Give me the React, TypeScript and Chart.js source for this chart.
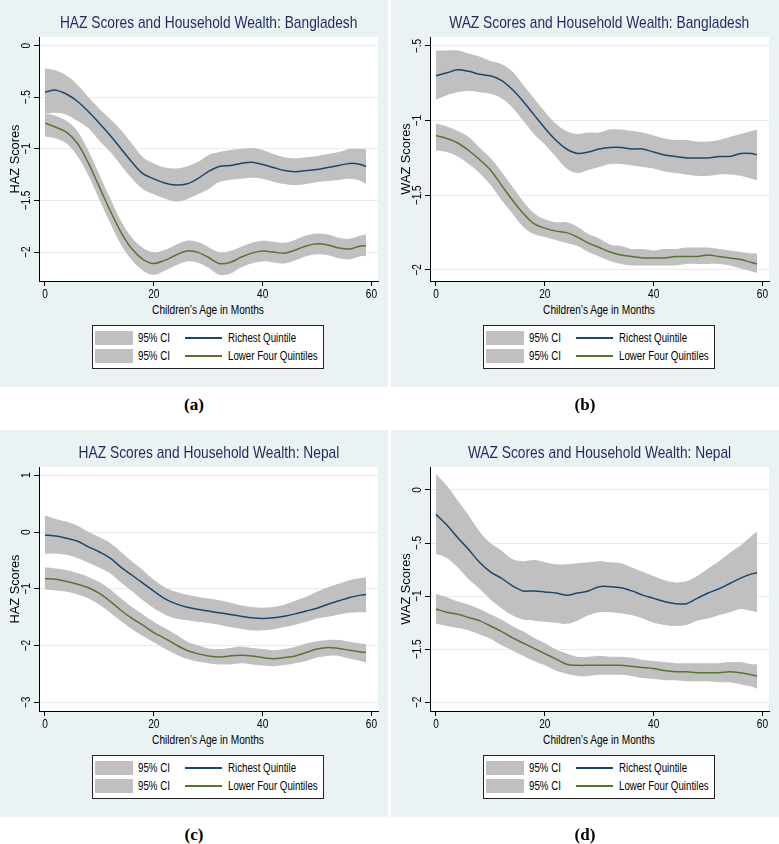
import React, { useEffect, useRef } from "react";
import { Chart, registerables } from "chart.js";

Chart.register(...registerables);

// ---------- data ----------
const months = [0, 2, 4, 6, 8, 10, 12, 14, 16, 18, 20, 22, 24, 26, 28, 30, 32, 34, 36, 38, 40, 42, 44, 46, 48, 50, 52, 54, 56, 58, 59];
const xTicks = [0, 20, 40, 60];

// (a) HAZ Bangladesh
const aRichMean = [-0.45, -0.43, -0.47, -0.54, -0.64, -0.75, -0.87, -1.0, -1.13, -1.24, -1.29, -1.33, -1.35, -1.34, -1.29, -1.22, -1.17, -1.16, -1.14, -1.13, -1.15, -1.18, -1.21, -1.22, -1.21, -1.2, -1.18, -1.16, -1.14, -1.15, -1.17];
const aRichHi = [-0.22, -0.24, -0.29, -0.38, -0.5, -0.61, -0.71, -0.82, -0.95, -1.08, -1.14, -1.18, -1.19, -1.17, -1.13, -1.06, -1.03, -1.01, -1.0, -0.99, -1.01, -1.05, -1.08, -1.09, -1.08, -1.07, -1.05, -1.03, -1.0, -1.0, -1.0];
const aRichLo = [-0.66, -0.65, -0.67, -0.73, -0.8, -0.92, -1.03, -1.16, -1.29, -1.39, -1.44, -1.48, -1.51, -1.49, -1.44, -1.39, -1.32, -1.3, -1.29, -1.28, -1.29, -1.32, -1.34, -1.35, -1.34, -1.32, -1.31, -1.3, -1.29, -1.31, -1.34];
const aLowMean = [-0.75, -0.79, -0.84, -0.95, -1.14, -1.37, -1.6, -1.81, -1.97, -2.07, -2.11, -2.08, -2.03, -1.99, -2.0, -2.05, -2.11, -2.1, -2.05, -2.01, -1.99, -2.0, -2.01, -1.98, -1.94, -1.92, -1.93, -1.96, -1.97, -1.94, -1.94];
const aLowHi = [-0.66, -0.68, -0.73, -0.83, -1.02, -1.25, -1.48, -1.7, -1.86, -1.96, -2.0, -1.98, -1.93, -1.89, -1.9, -1.95, -2.0, -1.99, -1.95, -1.91, -1.89, -1.9, -1.91, -1.88, -1.84, -1.82, -1.83, -1.86, -1.87, -1.84, -1.83];
const aLowLo = [-0.88, -0.9, -0.95, -1.07, -1.26, -1.49, -1.72, -1.93, -2.08, -2.18, -2.22, -2.18, -2.13, -2.09, -2.1, -2.15, -2.22, -2.21, -2.15, -2.11, -2.09, -2.1, -2.11, -2.08, -2.04, -2.02, -2.03, -2.06, -2.07, -2.04, -2.04];
const aYTicks = [0, -0.5, -1, -1.5, -2];

// (b) WAZ Bangladesh
const bRichMean = [-0.7, -0.68, -0.66, -0.67, -0.69, -0.7, -0.73, -0.79, -0.87, -0.96, -1.05, -1.13, -1.19, -1.22, -1.21, -1.19, -1.18, -1.18, -1.19, -1.19, -1.21, -1.23, -1.24, -1.25, -1.25, -1.25, -1.24, -1.24, -1.22, -1.22, -1.23];
const bRichHi = [-0.53, -0.53, -0.53, -0.55, -0.57, -0.6, -0.62, -0.67, -0.76, -0.85, -0.94, -1.02, -1.07, -1.09, -1.08, -1.08, -1.06, -1.06, -1.07, -1.08, -1.1, -1.12, -1.13, -1.13, -1.14, -1.14, -1.13, -1.11, -1.09, -1.07, -1.06];
const bRichLo = [-0.86, -0.83, -0.81, -0.8, -0.81, -0.82, -0.85, -0.91, -1.0, -1.09, -1.16, -1.24, -1.32, -1.35, -1.33, -1.31, -1.29, -1.29, -1.3, -1.31, -1.32, -1.34, -1.35, -1.36, -1.37, -1.37, -1.36, -1.36, -1.37, -1.39, -1.4];
const bLowMean = [-1.1, -1.12, -1.15, -1.2, -1.26, -1.33, -1.43, -1.53, -1.62, -1.69, -1.72, -1.74, -1.75, -1.78, -1.82, -1.85, -1.88, -1.9, -1.91, -1.92, -1.92, -1.92, -1.91, -1.91, -1.91, -1.9, -1.91, -1.92, -1.93, -1.95, -1.96];
const bLowHi = [-1.02, -1.04, -1.07, -1.11, -1.18, -1.25, -1.34, -1.44, -1.54, -1.62, -1.66, -1.68, -1.68, -1.71, -1.76, -1.79, -1.83, -1.84, -1.86, -1.86, -1.87, -1.86, -1.86, -1.85, -1.85, -1.85, -1.86, -1.87, -1.88, -1.89, -1.89];
const bLowLo = [-1.2, -1.21, -1.24, -1.29, -1.35, -1.43, -1.53, -1.62, -1.71, -1.76, -1.78, -1.8, -1.82, -1.84, -1.88, -1.91, -1.94, -1.96, -1.97, -1.97, -1.97, -1.97, -1.97, -1.96, -1.96, -1.96, -1.96, -1.97, -1.99, -2.01, -2.02];
const bYTicks = [-0.5, -1, -1.5, -2];

// (c) HAZ Nepal
const cRichMean = [-0.05, -0.07, -0.11, -0.16, -0.26, -0.35, -0.46, -0.62, -0.76, -0.9, -1.04, -1.17, -1.26, -1.32, -1.36, -1.39, -1.42, -1.45, -1.48, -1.51, -1.52, -1.51, -1.48, -1.44, -1.39, -1.34, -1.27, -1.21, -1.15, -1.11, -1.1];
const cRichHi = [0.29, 0.23, 0.18, 0.11, 0.0, -0.09, -0.19, -0.35, -0.52, -0.67, -0.84, -0.97, -1.05, -1.1, -1.14, -1.17, -1.2, -1.24, -1.29, -1.32, -1.33, -1.32, -1.28, -1.21, -1.14, -1.05, -0.97, -0.91, -0.85, -0.81, -0.8];
const cRichLo = [-0.38, -0.38, -0.4, -0.46, -0.54, -0.63, -0.73, -0.89, -1.04, -1.2, -1.34, -1.45, -1.52, -1.55, -1.58, -1.6, -1.63, -1.67, -1.7, -1.73, -1.73, -1.71, -1.67, -1.63, -1.58, -1.52, -1.49, -1.45, -1.42, -1.41, -1.41];
const cLowMean = [-0.82, -0.83, -0.87, -0.92, -0.98, -1.08, -1.22, -1.38, -1.52, -1.64, -1.77, -1.87, -1.98, -2.08, -2.14, -2.18, -2.2, -2.18, -2.17, -2.18, -2.21, -2.23, -2.21, -2.18, -2.12, -2.06, -2.03, -2.05, -2.08, -2.11, -2.12];
const cLowHi = [-0.62, -0.64, -0.67, -0.72, -0.79, -0.88, -1.01, -1.17, -1.32, -1.45, -1.58, -1.69, -1.8, -1.92, -1.99, -2.05, -2.06, -2.04, -2.02, -2.04, -2.06, -2.08, -2.06, -2.02, -1.96, -1.92, -1.9, -1.9, -1.93, -1.96, -1.97];
const cLowLo = [-1.01, -1.03, -1.05, -1.1, -1.17, -1.28, -1.42, -1.57, -1.71, -1.83, -1.94, -2.05, -2.15, -2.23, -2.28, -2.31, -2.33, -2.33, -2.31, -2.33, -2.35, -2.36, -2.34, -2.31, -2.27, -2.21, -2.18, -2.18, -2.23, -2.27, -2.3];
const cYTicks = [1, 0, -1, -2, -3];

// (d) WAZ Nepal
const dRichMean = [-0.23, -0.33, -0.45, -0.56, -0.68, -0.77, -0.83, -0.9, -0.95, -0.95, -0.96, -0.97, -0.99, -0.97, -0.95, -0.91, -0.91, -0.92, -0.95, -0.99, -1.02, -1.05, -1.07, -1.07, -1.02, -0.97, -0.93, -0.88, -0.83, -0.79, -0.78];
const dRichHi = [0.15, 0.04, -0.1, -0.24, -0.39, -0.5, -0.57, -0.65, -0.67, -0.66, -0.68, -0.7, -0.7, -0.69, -0.68, -0.67, -0.68, -0.69, -0.73, -0.77, -0.81, -0.85, -0.87, -0.86, -0.81, -0.74, -0.67, -0.59, -0.52, -0.43, -0.39];
const dRichLo = [-0.6, -0.64, -0.73, -0.84, -0.93, -1.03, -1.11, -1.18, -1.22, -1.23, -1.24, -1.25, -1.26, -1.23, -1.18, -1.15, -1.15, -1.16, -1.18, -1.21, -1.25, -1.27, -1.28, -1.27, -1.23, -1.21, -1.18, -1.15, -1.12, -1.14, -1.15];
const dLowMean = [-1.12, -1.15, -1.17, -1.2, -1.23, -1.28, -1.33, -1.39, -1.44, -1.49, -1.54, -1.59, -1.64, -1.65, -1.65, -1.65, -1.65, -1.65, -1.66, -1.67, -1.68, -1.7, -1.71, -1.71, -1.72, -1.72, -1.72, -1.71, -1.72, -1.74, -1.75];
const dLowHi = [-0.98, -1.01, -1.05, -1.08, -1.12, -1.17, -1.22, -1.28, -1.33, -1.39, -1.44, -1.5, -1.54, -1.57, -1.57, -1.56, -1.57, -1.57, -1.58, -1.6, -1.61, -1.62, -1.63, -1.63, -1.63, -1.63, -1.63, -1.62, -1.62, -1.64, -1.64];
const dLowLo = [-1.26, -1.28, -1.3, -1.32, -1.36, -1.4, -1.46, -1.51, -1.56, -1.61, -1.65, -1.7, -1.73, -1.75, -1.75, -1.74, -1.74, -1.74, -1.75, -1.77, -1.78, -1.79, -1.79, -1.8, -1.8, -1.8, -1.81, -1.81, -1.83, -1.85, -1.87];
const dYTicks = [0, -0.5, -1, -1.5, -2];

const legendCI = "95% CI";
const legendRich = "Richest Quintile";
const legendLow = "Lower Four Quintiles";
const xTitle = "Children\u2019s Age in Months";

// ---------- styles ----------
const SANS = '"Liberation Sans", Arial, sans-serif';
const NARROW_X = 0.81;
const BG = "#eaf2f3";
const BAND = "#c0c0c0";
const NAVY = "#1a476f";
const GREEN = "#55752f";
const TITLE = "#1c2c5e";

const fmt = (v: number) => {
  if (v === 0) return "0";
  const s = Math.abs(v).toString().replace(/^0\./, ".");
  return (v < 0 ? "\u2212" : "") + s;
};

const pts = (ys: number[]) => ys.map((y, i) => ({ x: months[i], y }));

const stataPlugin = {
  id: "stataLook",
  beforeDraw(chart: any) {
    const { ctx, chartArea: a } = chart;
    ctx.save();
    ctx.fillStyle = "#ffffff";
    ctx.fillRect(a.left, a.top, a.right - a.left, a.bottom - a.top);
    ctx.restore();
  },
  afterDraw(chart: any) {
    const ys = chart.scales.y;
    const xs = chart.scales.x;
    const ctx = chart.ctx;
    ctx.save();
    ctx.font = `12.5px ${SANS}`;
    ctx.fillStyle = "#000";
    ctx.textAlign = "center";
    ctx.textBaseline = "middle";
    ys.ticks.forEach((t: any) => {
      const y = ys.getPixelForValue(t.value);
      ctx.save();
      ctx.translate(chart.chartArea.left - 12, y);
      ctx.rotate(-Math.PI / 2);
      ctx.scale(NARROW_X, 1);
      ctx.fillText(fmt(t.value), 0, 0);
      ctx.restore();
    });
    xs.ticks.forEach((t: any) => {
      const x = xs.getPixelForValue(t.value);
      ctx.save();
      ctx.translate(x, chart.chartArea.bottom + 14);
      ctx.scale(NARROW_X, 1);
      ctx.fillText(String(t.value), 0, 0);
      ctx.restore();
    });
    ctx.restore();
  },
};

function Narrow({ children, origin = "left center" }: { children: any; origin?: string }) {
  return (
    <span style={{ display: "inline-block", transform: `scaleX(${NARROW_X})`, transformOrigin: origin, whiteSpace: "nowrap" }}>
      {children}
    </span>
  );
}

type PanelProps = {
  left: number;
  top: number;
  title: string;
  yTitle: string;
  caption: string;
  yMin: number;
  yMax: number;
  yTicks: number[];
  richMean: number[];
  richHi: number[];
  richLo: number[];
  lowMean: number[];
  lowHi: number[];
  lowLo: number[];
};

function Panel(p: PanelProps) {
  const ref = useRef<HTMLCanvasElement | null>(null);
  useEffect(() => {
    if (!ref.current) return;
    const band = { borderColor: "rgba(0,0,0,0)", borderWidth: 0, backgroundColor: BAND, pointRadius: 0, tension: 0.35 };
    const chart = new Chart(ref.current, {
      type: "line",
      data: {
        datasets: [
          { data: pts(p.richMean), borderColor: NAVY, borderWidth: 1.5, pointRadius: 0, fill: false, tension: 0.35 },
          { data: pts(p.lowMean), borderColor: GREEN, borderWidth: 1.5, pointRadius: 0, fill: false, tension: 0.35 },
          { ...band, data: pts(p.richHi), fill: 3 },
          { ...band, data: pts(p.richLo), fill: false },
          { ...band, data: pts(p.lowHi), fill: 5 },
          { ...band, data: pts(p.lowLo), fill: false },
        ],
      } as any,
      options: {
        animation: false,
        responsive: false,
        devicePixelRatio: 1,
        layout: { padding: { left: 0, top: 37, right: 10, bottom: 0 } },
        plugins: {
          legend: { display: false },
          title: { display: false },
          tooltip: { enabled: false },
          filler: { drawTime: "beforeDatasetsDraw", propagate: false },
        },
        scales: {
          x: {
            type: "linear",
            min: -1.1,
            max: 61.2,
            afterBuildTicks: (s: any) => {
              s.ticks = xTicks.map((v) => ({ value: v }));
            },
            afterFit: (s: any) => {
              s.height = 19;
            },
            ticks: { display: false },
            grid: { drawOnChartArea: false, drawTicks: true, tickLength: 5, tickColor: "#000" },
            border: { display: true, color: "#000", width: 1 },
          },
          y: {
            type: "linear",
            min: p.yMin,
            max: p.yMax,
            afterBuildTicks: (s: any) => {
              s.ticks = p.yTicks.map((v) => ({ value: v }));
            },
            afterFit: (s: any) => {
              s.width = 39;
            },
            ticks: { display: false },
            grid: { drawOnChartArea: true, color: "#e4ecee", lineWidth: 1, drawTicks: true, tickLength: 5, tickColor: "#000" },
            border: { display: true, color: "#000", width: 1 },
          },
        },
      } as any,
      plugins: [stataPlugin],
    });
    return () => chart.destroy();
  }, []);

  const plotCx = (39 + 378) / 2;
  return (
    <div style={{ position: "absolute", left: p.left, top: p.top, width: 388, height: 420 }}>
      <div style={{ position: "absolute", left: 0, top: 0, width: 388, height: 387, background: BG }} />
      <canvas ref={ref} width={388} height={300} style={{ position: "absolute", left: 0, top: 0, width: 388, height: 300 }} />
      <div
        style={{
          position: "absolute",
          left: plotCx - 200,
          width: 400,
          top: 12,
          textAlign: "center",
          font: `17px ${SANS}`,
          color: TITLE,
          lineHeight: "22px",
        }}
      >
        <Narrow origin="center center">{p.title}</Narrow>
      </div>
      <div
        style={{
          position: "absolute",
          left: 15 - 60,
          top: 159 - 8,
          width: 120,
          height: 16,
          lineHeight: "16px",
          textAlign: "center",
          transform: "rotate(-90deg)",
          font: `12.8px ${SANS}`,
          color: "#000",
          whiteSpace: "nowrap",
        }}
      >
        {p.yTitle}
      </div>
      <div
        style={{
          position: "absolute",
          left: plotCx - 100,
          width: 200,
          top: 302,
          textAlign: "center",
          font: `12.5px ${SANS}`,
          lineHeight: "16px",
          color: "#000",
        }}
      >
        <Narrow origin="center center">{xTitle}</Narrow>
      </div>
      <div
        style={{
          position: "absolute",
          left: 92,
          top: 325,
          width: 232,
          height: 44,
          boxSizing: "border-box",
          border: "1.5px solid #222",
          background: "#fff",
          font: `12px ${SANS}`,
          color: "#000",
        }}
      >
        <div style={{ position: "absolute", left: 2, top: 5, width: 38, height: 14, background: BAND }} />
        <div style={{ position: "absolute", left: 2, top: 23, width: 38, height: 14, background: BAND }} />
        <div style={{ position: "absolute", left: 45, top: 4, lineHeight: "16px" }}><Narrow>{legendCI}</Narrow></div>
        <div style={{ position: "absolute", left: 45, top: 22, lineHeight: "16px" }}><Narrow>{legendCI}</Narrow></div>
        <div style={{ position: "absolute", left: 92, top: 11, width: 37, height: 2, background: NAVY }} />
        <div style={{ position: "absolute", left: 92, top: 29, width: 37, height: 2, background: GREEN }} />
        <div style={{ position: "absolute", left: 135, top: 4, lineHeight: "16px" }}><Narrow>{legendRich}</Narrow></div>
        <div style={{ position: "absolute", left: 135, top: 22, lineHeight: "16px" }}><Narrow>{legendLow}</Narrow></div>
      </div>
      <div
        style={{
          position: "absolute",
          left: 0,
          width: 388,
          top: 395,
          textAlign: "center",
          font: `bold 17px "Liberation Serif", "Times New Roman", serif`,
          lineHeight: "20px",
          color: "#000",
        }}
      >
        {p.caption}
      </div>
    </div>
  );
}

export default function App() {
  useEffect(() => {
    document.body.style.margin = "0";
  }, []);
  return (
    <div style={{ position: "absolute", left: 0, top: 0, width: 779, height: 844, background: "#fff", overflow: "hidden" }}>
      <Panel left={0} top={0} title="HAZ Scores and Household Wealth: Bangladesh" yTitle="HAZ Scores" caption="(a)"
        yMin={-2.28} yMax={0.085} yTicks={aYTicks}
        richMean={aRichMean} richHi={aRichHi} richLo={aRichLo} lowMean={aLowMean} lowHi={aLowHi} lowLo={aLowLo} />
      <Panel left={391} top={0} title="WAZ Scores and Household Wealth: Bangladesh" yTitle="WAZ Scores" caption="(b)"
        yMin={-2.074} yMax={-0.44} yTicks={bYTicks}
        richMean={bRichMean} richHi={bRichHi} richLo={bRichLo} lowMean={bLowMean} lowHi={bLowHi} lowLo={bLowLo} />
      <Panel left={0} top={430} title="HAZ Scores and Household Wealth: Nepal" yTitle="HAZ Scores" caption="(c)"
        yMin={-3.15} yMax={1.146} yTicks={cYTicks}
        richMean={cRichMean} richHi={cRichHi} richLo={cRichLo} lowMean={cLowMean} lowHi={cLowHi} lowLo={cLowLo} />
      <Panel left={391} top={430} title="WAZ Scores and Household Wealth: Nepal" yTitle="WAZ Scores" caption="(d)"
        yMin={-2.08} yMax={0.216} yTicks={dYTicks}
        richMean={dRichMean} richHi={dRichHi} richLo={dRichLo} lowMean={dLowMean} lowHi={dLowHi} lowLo={dLowLo} />
    </div>
  );
}
